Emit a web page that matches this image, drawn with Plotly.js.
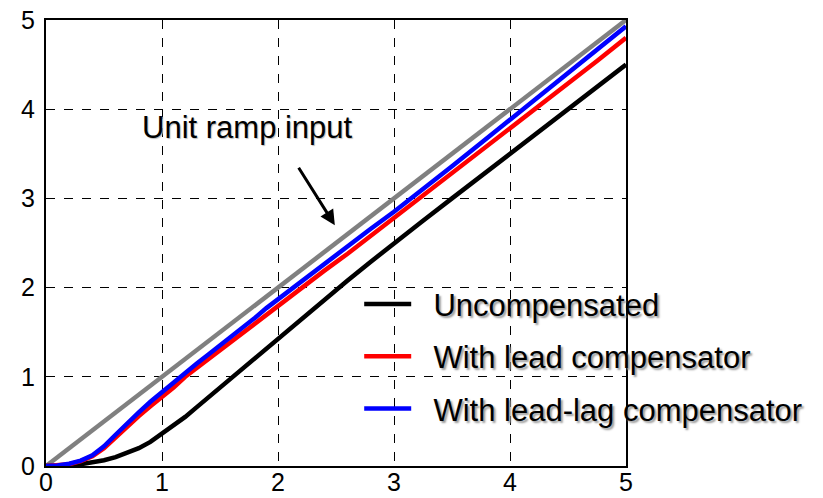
<!DOCTYPE html>
<html>
<head>
<meta charset="utf-8">
<script src="https://cdn.plot.ly/plotly-3.0.1.min.js"></script>
<style>html,body{margin:0;padding:0;background:#fff;}#chart{width:823px;height:498px;}</style>
</head>
<body>
<div id="chart"></div>
<script>
// time axis (s)
const t = [0, 0.1, 0.2, 0.3, 0.4, 0.5, 0.6, 0.7, 0.8, 0.9, 1.0, 1.1, 1.2, 1.3, 1.4, 1.5, 1.6, 1.7, 1.8, 1.9, 2.0,
           2.2, 2.4, 2.6, 2.8, 3.0, 3.25, 3.5, 3.75, 4.0, 4.25, 4.5, 4.75, 5.0];
// unit ramp input
const rampX = [0, 5];
const rampY = [0, 5];
// responses
const uncompensated = [0, 0.002, 0.008, 0.02, 0.038, 0.065, 0.1, 0.145, 0.2, 0.27, 0.36, 0.45, 0.55, 0.66, 0.77, 0.88, 0.99, 1.1, 1.21, 1.32, 1.43,
                       1.65, 1.87, 2.08, 2.29, 2.5, 2.75, 3.0, 3.25, 3.5, 3.75, 4.0, 4.25, 4.5];
const lead = [0, 0.005, 0.02, 0.055, 0.11, 0.2, 0.32, 0.45, 0.56, 0.67, 0.77, 0.88, 1.0, 1.1, 1.2, 1.3, 1.4, 1.5, 1.6, 1.7, 1.8,
              1.99, 2.19, 2.38, 2.58, 2.78, 3.03, 3.29, 3.54, 3.79, 4.04, 4.29, 4.54, 4.8];
const leadLag = [0, 0.006, 0.025, 0.06, 0.12, 0.22, 0.35, 0.48, 0.6, 0.72, 0.83, 0.94, 1.05, 1.15, 1.25, 1.35, 1.46, 1.56, 1.66, 1.77, 1.87,
                 2.07, 2.27, 2.47, 2.66, 2.85, 3.1, 3.36, 3.62, 3.88, 4.14, 4.4, 4.66, 4.93];
const seriesNames = ["Uncompensated", "With lead compensator", "With lead-lag compensator"];
const tickVals = [0, 1, 2, 3, 4, 5];
const annoText = "Unit ramp input";

const FONT = "Liberation Sans, Arial, sans-serif";
const PAD = "\u00a0\u00a0";

const traces = [
  {x: rampX, y: rampY, mode: "lines", line: {color: "#808080", width: 4.5}, showlegend: false, hoverinfo: "skip"},
  {x: t, y: uncompensated, mode: "lines", name: PAD + seriesNames[0], legendgroup: "a", line: {color: "#000000", width: 4.5}},
  {x: t, y: lead, mode: "lines", name: PAD + seriesNames[1], legendgroup: "b", line: {color: "#ff0000", width: 4.5}},
  {x: t, y: leadLag, mode: "lines", name: PAD + seriesNames[2], legendgroup: "c", line: {color: "#0000ff", width: 4.5}}
];

const axisCommon = {
  range: [0, 5],
  tickvals: tickVals,
  ticktext: tickVals.map(String),
  showgrid: true,
  gridcolor: "#000000",
  gridwidth: 1,
  griddash: "dash",
  zeroline: false,
  showline: true,
  linecolor: "#000000",
  linewidth: 2,
  mirror: true,
  ticks: "",
  tickfont: {family: FONT, size: 25, color: "#000"}
};

const layout = {
  width: 823, height: 498,
  margin: {l: 46, r: 197, t: 20, b: 32},
  paper_bgcolor: "#fff", plot_bgcolor: "#fff",
  font: {family: FONT, color: "#000"},
  xaxis: Object.assign({}, axisCommon, {ticklabelstandoff: -7}),
  yaxis: Object.assign({}, axisCommon, {ticklabelstandoff: 4}),
  showlegend: true,
  legend: {
    x: 0.54, y: 0.423, xanchor: "left", yanchor: "top",
    bgcolor: "rgba(0,0,0,0)", borderwidth: 0,
    font: {family: FONT, size: 31, color: "#000", shadow: "2px 2px 2px #999"},
    traceorder: "grouped", tracegroupgap: 9,
    itemwidth: 47
  },
  annotations: [
    {x: 2.49, y: 2.7, ax: 2.17, ay: 3.36, xref: "x", yref: "y", axref: "x", ayref: "y",
     showarrow: true, arrowhead: 2, arrowsize: 1, arrowwidth: 3, arrowcolor: "#000", text: ""},
    {x: 1.74, y: 3.8, xref: "x", yref: "y", text: annoText, showarrow: false,
     font: {family: FONT, size: 31, color: "#000", shadow: "1px 1px 1px #bbb"}}
  ]
};

Plotly.newPlot("chart", traces, layout, {displayModeBar: false, staticPlot: true});
</script>
</body>
</html>
